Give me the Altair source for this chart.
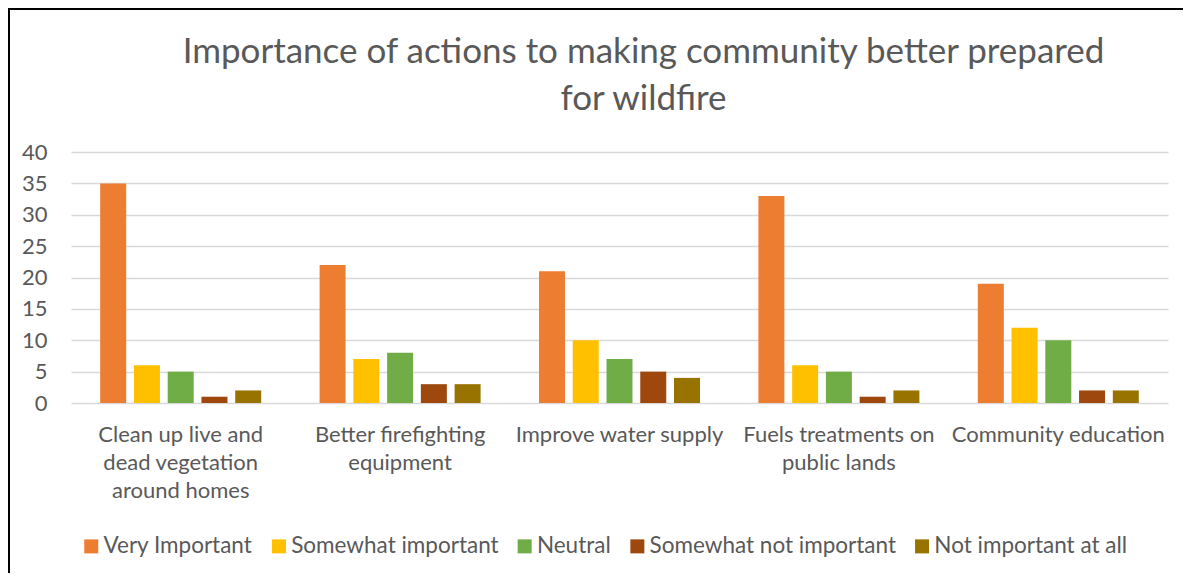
import altair as alt
import pandas as pd

categories = [
    "Clean up live and|dead vegetation|around homes",
    "Better firefighting|equipment",
    "Improve water supply",
    "Fuels treatments on|public lands",
    "Community education",
]
series = ["Very Important", "Somewhat important", "Neutral",
          "Somewhat not important", "Not important at all"]
colors = ["#ED7D31", "#FFC000", "#70AD47", "#9E480E", "#997300"]

very_important = [35, 22, 21, 33, 19]
somewhat_important = [6, 7, 10, 6, 12]
neutral = [5, 8, 7, 5, 10]
somewhat_not = [1, 3, 5, 1, 2]
not_at_all = [2, 3, 4, 2, 2]

values = [very_important, somewhat_important, neutral, somewhat_not, not_at_all]
rows = []
for s, vals in zip(series, values):
    for c, v in zip(categories, vals):
        rows.append({"category": c, "series": s, "value": v})
df = pd.DataFrame(rows)

FONT = "Lato"
GREY = "#595959"

bars = alt.Chart(df).mark_bar().encode(
    x=alt.X("category:N", sort=categories,
            scale=alt.Scale(paddingInner=0, paddingOuter=0),
            axis=alt.Axis(title=None, labelAngle=0, ticks=False, domain=False,
                          labelExpr="split(datum.value, '|')",
                          labelFont=FONT, labelFontSize=22, labelColor=GREY,
                          labelLineHeight=28, labelPadding=21, labelLimit=300)),
    xOffset=alt.XOffset("series:N", sort=series,
                        scale=alt.Scale(paddingInner=0.23, paddingOuter=0.865)),
    y=alt.Y("value:Q", scale=alt.Scale(domain=[0, 40], nice=False),
            axis=alt.Axis(title=None, values=list(range(0, 41, 5)), ticks=False,
                          domain=False, gridColor="#d9d9d9", gridWidth=1.4,
                          labelFont=FONT, labelFontSize=22, labelColor=GREY,
                          labelPadding=24)),
    color=alt.Color("series:N", sort=series,
                    scale=alt.Scale(domain=series, range=colors),
                    legend=alt.Legend(title=None, orient="none", direction="horizontal",
                                      legendX=9, legendY=383,
                                      symbolType="square", symbolSize=196,
                                      symbolStrokeWidth=0, labelFont=FONT,
                                      labelFontSize=22.5, labelColor=GREY,
                                      labelOffset=1, columnPadding=14.7,
                                      labelLimit=400)),
)

frame_df = pd.DataFrame({"f": [0]})
left_line = alt.Chart(frame_df).mark_rule(color="black", strokeWidth=2).encode(
    x=alt.value(-62), y=alt.value(-143), y2=alt.value(440))
top_line = alt.Chart(frame_df).mark_rule(color="black", strokeWidth=2).encode(
    x=alt.value(-63), x2=alt.value(1112), y=alt.value(-143))

chart = alt.layer(bars, left_line, top_line).properties(
    width=1097, height=251,
    padding={"left": 63, "top": 144, "right": 15, "bottom": 170},
    autosize=alt.AutoSizeParams(type="none"),
    background="white",
    title=alt.TitleParams(
        text=["Importance of actions to making community better prepared", "for wildfire"],
        font=FONT, fontSize=35, fontWeight="normal", color=GREY,
        lineHeight=47, anchor="middle", dx=24, offset=-109),
).configure_view(stroke=None)

chart.save("out.html", embed_options={"renderer": "svg", "actions": False})
